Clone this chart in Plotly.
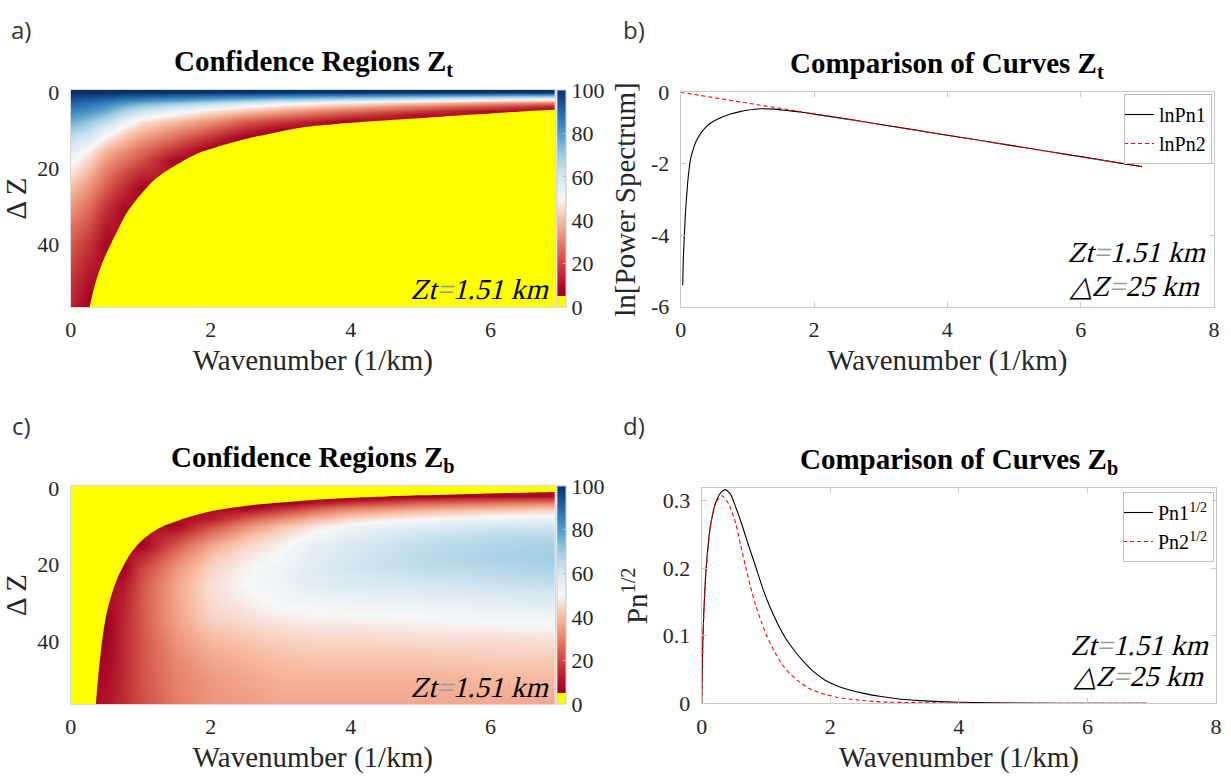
import plotly.graph_objects as go

W, H = 1231, 777
SERIF = "Liberation Serif, Times New Roman, Times, serif"
SANS = "Open Sans"
INK = "#262626"
FRAME = "#c8c8c8"
N = None

# ---------------------------------------------------------------------------
# Confidence maps: wavenumber columns (1/km) and depth-extent rows ΔZ (km)
# ---------------------------------------------------------------------------
k_grid = [0, 0.25, 0.5, 0.75, 1, 1.5, 2, 2.5, 3, 3.5, 4, 5, 6, 7]
dz_grid = [0, 1, 2, 3, 4, 5, 6, 8, 10, 12, 15, 18, 21, 25, 30, 35, 40, 45, 50, 57]

# confidence (%) down each wavenumber column; None = below the 5 % threshold
conf_zt = [
    [100, 97, 94, 91, 88, 85, 82, 76, 70, 64, 58, 52, 47, 40, 34, 28, 24, 20, 17, 14],
    [100, 96, 92, 88, 85, 81, 78, 71, 65, 58, 50, 44, 39, 33, 27, 22, 17, 13, 10, 6],
    [100, 95, 90, 85, 81, 77, 72, 64, 55, 49, 40, 34, 29, 24, 17, 12, 8, N, N, N],
    [100, 93, 86, 80, 74, 69, 64, 55, 47, 41, 34, 28, 22, 16, 9, N, N, N, N, N],
    [100, 92, 84, 76, 69, 62, 56, 46, 40, 35, 28, 22, 16, 8, N, N, N, N, N, N],
    [100, 90, 80, 71, 62, 54, 48, 39, 32, 26, 17, 8, N, N, N, N, N, N, N, N],
    [100, 88, 76, 65, 55, 47, 41, 32, 24, 16, 6, N, N, N, N, N, N, N, N, N],
    [100, 86, 72, 60, 49, 41, 34, 23, 14, 6, N, N, N, N, N, N, N, N, N, N],
    [100, 84, 68, 54, 44, 36, 29, 17, 7, N, N, N, N, N, N, N, N, N, N, N],
    [100, 82, 65, 50, 40, 31, 24, 11, N, N, N, N, N, N, N, N, N, N, N, N],
    [100, 81, 62, 47, 36, 27, 19, 6, N, N, N, N, N, N, N, N, N, N, N, N],
    [100, 78, 56, 40, 28, 18, 10, N, N, N, N, N, N, N, N, N, N, N, N, N],
    [100, 75, 50, 33, 20, 9, N, N, N, N, N, N, N, N, N, N, N, N, N, N],
    [100, 72, 45, 27, 11, N, N, N, N, N, N, N, N, N, N, N, N, N, N, N],
]
conf_zb = [
    [N, N, N, N, N, N, N, N, N, N, N, N, N, N, N, N, N, N, N, N],
    [N, N, N, N, N, N, N, N, N, N, N, N, N, N, N, N, N, N, N, N],
    [N, N, N, N, N, N, N, N, N, N, N, N, N, N, N, 5, 7, 8, 9, 10],
    [N, N, N, N, N, N, N, N, N, N, N, N, 6, 11, 13, 14, 14, 14, 15, 15],
    [N, N, N, N, N, N, N, N, N, N, 7, 14, 19, 22, 23, 23, 22, 22, 22, 21],
    [N, N, N, N, N, N, N, N, 8, 15, 23, 29, 33, 36, 36, 35, 33, 31, 30, 29],
    [N, N, N, N, N, N, N, 12, 21, 28, 36, 41, 44, 46, 45, 43, 39, 36, 34, 33],
    [N, N, N, N, N, 5, 12, 24, 32, 38, 44, 47, 49, 50, 48, 45, 41, 38, 36, 34],
    [N, N, N, N, 5, 13, 20, 32, 40, 45, 49, 51, 53, 53, 51, 47, 43, 40, 38, 36],
    [N, N, N, N, 12, 21, 28, 39, 47, 51, 55, 57, 58, 57, 52, 48, 44, 41, 38, 36],
    [N, N, N, 8, 18, 27, 34, 45, 52, 56, 59, 60, 61, 58, 53, 48, 44, 41, 38, 36],
    [N, N, 5, 15, 25, 33, 40, 50, 57, 61, 64, 65, 64, 60, 54, 49, 45, 41, 38, 36],
    [N, N, 8, 18, 28, 36, 43, 53, 60, 64, 67, 68, 66, 62, 56, 50, 45, 42, 39, 36],
    [N, N, 10, 20, 30, 39, 45, 55, 61, 65, 69, 70, 68, 64, 57, 51, 46, 42, 39, 36],
]

# edge of the below-threshold zone in each map
edge_zt_k = [0.27, 0.32, 0.37, 0.45, 0.56, 0.68, 0.80, 0.93, 1.06, 1.2, 1.39, 1.6,
             1.82, 2.1, 2.35, 2.6, 2.87, 3.1, 3.35, 3.8, 4.3, 4.8, 5.3, 5.8, 6.3, 6.95]
edge_zt_dz = [56.5, 52.5, 49.2, 45.0, 40.5, 36.0, 31.8, 28.5, 25.7, 23.0, 20.5, 18.2,
              16.1, 14.4, 13.1, 11.9, 10.9, 10.0, 9.2, 8.4, 7.7, 7.1, 6.5, 5.9, 5.3, 4.65]
edge_zb_k = [0.36, 0.38, 0.40, 0.43, 0.46, 0.50, 0.55, 0.6, 0.67, 0.75, 0.85, 1.0, 1.15, 1.3,
             1.5, 1.75, 2.0, 2.3, 2.7, 3.1, 3.5, 4.0, 4.5, 5.0, 5.5, 6.0, 6.5, 7.0]
edge_zb_dz = [57, 52, 48, 43, 38.5, 34, 30, 27, 23.5, 20.5, 17.3, 14, 11.8, 10.2,
              8.8, 7.3, 6.1, 5.2, 4.3, 3.7, 3.1, 2.6, 2.25, 1.95, 1.7, 1.45, 1.25, 1.05]

# ---------------------------------------------------------------------------
# Spectral curves
# ---------------------------------------------------------------------------
k_lnpn1 = [0.03, 0.04, 0.055, 0.075, 0.1, 0.115, 0.15, 0.2, 0.23, 0.3, 0.36, 0.45, 0.59,
           0.75, 0.89, 1.0, 1.19, 1.4, 1.6, 1.8, 2.0, 2.5, 3.0, 4.0, 5.0, 6.0, 6.92]
lnpn1 = [-5.40, -4.60, -4.00, -3.25, -2.65, -2.32, -1.85, -1.52, -1.38, -1.15, -1.01, -0.86,
         -0.72, -0.61, -0.54, -0.50, -0.46, -0.47, -0.51, -0.55, -0.61, -0.75, -0.90, -1.20,
         -1.50, -1.80, -2.08]
k_lnpn2 = [0, 1, 2, 3, 4, 5, 6, 6.92]
lnpn2 = [0, -0.30, -0.60, -0.90, -1.20, -1.50, -1.80, -2.08]

k_pn1 = [0, 0.02, 0.07, 0.14, 0.23, 0.3, 0.37, 0.45, 0.53, 0.62, 0.72, 0.84, 0.95, 1.05,
         1.17, 1.3, 1.45, 1.61, 1.75, 1.92, 2.1, 2.29, 2.5, 2.79, 3.1, 3.4, 4.0, 5.0, 6.0, 6.92]
pn1_sqrt = [0, 0.10, 0.20, 0.265, 0.30, 0.312, 0.316, 0.309, 0.29, 0.266, 0.236, 0.202,
            0.170, 0.145, 0.120, 0.097, 0.077, 0.059, 0.046, 0.034, 0.026, 0.020, 0.015,
            0.010, 0.006, 0.004, 0.0015, 0.0003, 0.0001, 0.0]
k_pn2 = [0, 0.02, 0.07, 0.15, 0.22, 0.32, 0.42, 0.53, 0.6, 0.68, 0.76, 0.84, 0.93, 1.02,
         1.13, 1.24, 1.36, 1.49, 1.67, 1.86, 2.1, 2.41, 2.8, 3.3, 4.0, 5.0, 6.0, 6.92]
pn2_sqrt = [0, 0.10, 0.20, 0.27, 0.297, 0.307, 0.295, 0.266, 0.236, 0.203, 0.172, 0.145,
            0.12, 0.098, 0.077, 0.059, 0.045, 0.034, 0.022, 0.015, 0.009, 0.005, 0.002,
            0.001, 0.0002, 0, 0, 0]

K_MAX = 6.92          # right edge of the confidence maps
DZ_RANGE = [56.5, -0.5]
K_OUT, DZ_OUT_LOW, DZ_OUT_TOP = 7.6, 60, -3   # closing corners kept outside the view

conf_scale = [
    [0.0, "#ffff00"], [0.05, "#ffff00"],
    [0.05, "rgb(150,0,35)"], [0.1, "rgb(175,15,40)"], [0.2, "rgb(205,70,65)"],
    [0.3, "rgb(230,130,105)"], [0.4, "rgb(248,190,165)"], [0.5, "rgb(247,247,247)"],
    [0.6, "rgb(214,232,242)"], [0.7, "rgb(160,205,227)"], [0.8, "rgb(80,155,200)"],
    [0.9, "rgb(35,105,170)"], [1.0, "rgb(8,48,107)"],
]


def rows(cols):
    return [list(r) for r in zip(*cols)]


def box(x0, x1, y0, y1):
    """pixel box -> paper domains"""
    return [x0 / W, x1 / W], [1 - y1 / H, 1 - y0 / H]


dom = {
    "a": box(70.7, 555, 90, 307),
    "b": box(680.7, 1214, 92.3, 306.7),
    "c": box(70.7, 555, 486, 704),
    "d": box(701.7, 1216, 488.3, 703.3),
}

tick_font = dict(family=SERIF, size=22, color=INK)
title_font = dict(family=SERIF, size=29, color=INK)


def cbar(y0, y1):
    return dict(
        x=557 / W, xanchor="left", xpad=0, ypad=0,
        y=1 - (y0 + y1) / 2 / H, yanchor="middle", len=(y1 - y0) / H, lenmode="fraction",
        thickness=9, thicknessmode="pixels", outlinecolor=FRAME, outlinewidth=1,
        tickvals=[0, 20, 40, 60, 80, 100], ticks="inside", ticklen=3, tickcolor="#bbbbbb",
        tickfont=tick_font,
    )


fig = go.Figure()

# a) confidence for the top depth
fig.add_trace(go.Heatmap(
    x=k_grid, y=dz_grid, z=rows(conf_zt), zmin=0, zmax=100, colorscale=conf_scale,
    zsmooth="best", connectgaps=True, colorbar=cbar(90, 307), hoverinfo="skip",
    xaxis="x", yaxis="y"))
fig.add_trace(go.Scatter(
    x=edge_zt_k + [K_OUT, K_OUT, edge_zt_k[0]],
    y=edge_zt_dz + [edge_zt_dz[-1], DZ_OUT_LOW, DZ_OUT_LOW],
    mode="lines", fill="toself", fillcolor="#ffff00",
    line=dict(width=0, shape="spline", smoothing=0.8, color="#ffff00"),
    showlegend=False, hoverinfo="skip", xaxis="x", yaxis="y"))

# c) confidence for the bottom depth
fig.add_trace(go.Heatmap(
    x=k_grid, y=dz_grid, z=rows(conf_zb), zmin=0, zmax=100, colorscale=conf_scale,
    zsmooth="best", connectgaps=True, colorbar=cbar(486, 704), hoverinfo="skip",
    xaxis="x3", yaxis="y3"))
fig.add_trace(go.Scatter(
    x=[-K_OUT, -K_OUT, edge_zb_k[0]] + edge_zb_k + [K_OUT, K_OUT],
    y=[DZ_OUT_TOP, DZ_OUT_LOW, DZ_OUT_LOW] + edge_zb_dz + [edge_zb_dz[-1], DZ_OUT_TOP],
    mode="lines", fill="toself", fillcolor="#ffff00",
    line=dict(width=0, shape="spline", smoothing=0.8, color="#ffff00"),
    showlegend=False, hoverinfo="skip", xaxis="x3", yaxis="y3"))

# b) log power spectra
fig.add_trace(go.Scatter(x=k_lnpn1, y=lnpn1, mode="lines", name="lnPn1",
                         line=dict(color="black", width=1.1, shape="spline", smoothing=0.5),
                         legend="legend", xaxis="x2", yaxis="y2"))
fig.add_trace(go.Scatter(x=k_lnpn2, y=lnpn2, mode="lines", name="lnPn2",
                         line=dict(color="#ff0000", width=1.1, dash="4px,3px"),
                         legend="legend", xaxis="x2", yaxis="y2"))

# d) square-root spectra
fig.add_trace(go.Scatter(x=k_pn1, y=pn1_sqrt, mode="lines", name="Pn1<sup>1/2</sup>",
                         line=dict(color="black", width=1.1, shape="spline", smoothing=0.6),
                         legend="legend2", xaxis="x4", yaxis="y4"))
fig.add_trace(go.Scatter(x=k_pn2, y=pn2_sqrt, mode="lines", name="Pn2<sup>1/2</sup>",
                         line=dict(color="#ff0000", width=1.1, dash="4px,3px",
                                   shape="spline", smoothing=0.6),
                         legend="legend2", xaxis="x4", yaxis="y4"))


def map_axes(dx, dy, anchor_x, anchor_y):
    xa = dict(domain=dx, anchor=anchor_y, range=[0, K_MAX], tickvals=[0, 2, 4, 6],
              showline=True, mirror=True, linecolor="#d9d9d9", ticks="", showgrid=False,
              zeroline=False, tickfont=tick_font, ticklabelstandoff=3, automargin=False,
              title=dict(text="Wavenumber (1/km)", font=title_font, standoff=8))
    ya = dict(domain=dy, anchor=anchor_x, range=DZ_RANGE, tickvals=[0, 20, 40],
              showline=True, mirror=True, linecolor="#d9d9d9", ticks="", showgrid=False,
              zeroline=False, tickfont=tick_font, ticklabelstandoff=6, automargin=False,
              title=dict(text="Δ Z", font=title_font, standoff=4))
    return xa, ya


def curve_axes(dx, dy, anchor_x, anchor_y, yr, ytv, ytt, ytitle):
    common = dict(showline=True, mirror="allticks", linecolor=FRAME, linewidth=1,
                  ticks="inside", ticklen=5, tickcolor=FRAME, showgrid=False,
                  zeroline=False, tickfont=tick_font, automargin=False)
    xa = dict(domain=dx, anchor=anchor_y, range=[0, 8], tickvals=[0, 2, 4, 6, 8],
              ticklabelstandoff=3,
              title=dict(text="Wavenumber (1/km)", font=title_font, standoff=8), **common)
    ya = dict(domain=dy, anchor=anchor_x, range=yr, tickvals=ytv, ticktext=ytt,
              ticklabelstandoff=6, title=dict(text=ytitle, font=title_font, standoff=6),
              **common)
    return xa, ya


xa1, ya1 = map_axes(*dom["a"], "x", "y")
xa3, ya3 = map_axes(*dom["c"], "x3", "y3")
xa2, ya2 = curve_axes(*dom["b"], "x2", "y2", [-6, 0], [-6, -4, -2, 0],
                      ["-6", "-4", "-2", "0"], "ln[Power Spectrum]")
xa4, ya4 = curve_axes(*dom["d"], "x4", "y4", [0, 0.318], [0, 0.1, 0.2, 0.3],
                      ["0", "0.1", "0.2", "0.3"], "Pn<sup>1/2</sup>")


def px_ann(text, x, y, size, xanchor="center", family=SERIF, color="black", height=None):
    a = dict(text=text, x=x / W, y=1 - y / H, xref="paper", yref="paper",
             xanchor=xanchor, yanchor="middle", showarrow=False,
             font=dict(family=family, size=size, color=color))
    if height:
        a["height"] = height
    return a


# parameter notes; slanted in the page script below (the serif face has no italic cut)
EQ = "<span style='color:#9a9a9a'>=</span>"
annotations = [
    px_ann("<b>Confidence Regions Z<sub>t</sub></b>", 313, 63, 29),
    px_ann("<b>Comparison of Curves Z<sub>t</sub></b>", 947, 65, 29),
    px_ann("<b>Confidence Regions Z<sub>b</sub></b>", 313, 459, 29),
    px_ann("<b>Comparison of Curves Z<sub>b</sub></b>", 959, 461, 29),
    px_ann("a)", 21, 29, 24, family=SANS, color="#333333"),
    px_ann("b)", 634, 29, 24, family=SANS, color="#333333"),
    px_ann("c)", 21, 425, 24, family=SANS, color="#333333"),
    px_ann("d)", 634, 425, 24, family=SANS, color="#333333"),
    px_ann(f"Zt{EQ}1.51 km", 553, 289, 29, xanchor="right"),
    px_ann(f"Zt{EQ}1.51 km", 553, 687, 29, xanchor="right"),
    px_ann(f"Zt{EQ}1.51 km", 1210, 252, 29, xanchor="right", height=31),
    px_ann(f"△Z{EQ}25 km", 1204, 286, 29, xanchor="right", height=31),
    px_ann(f"Zt{EQ}1.51 km", 1213, 645, 29, xanchor="right", height=30),
    px_ann(f"△Z{EQ}25 km", 1208, 676, 29, xanchor="right", height=30),
]

legend_style = dict(xanchor="right", yanchor="top", bgcolor="white", bordercolor="#bdbdbd",
                    borderwidth=1, font=dict(family=SERIF, size=20, color="black"),
                    tracegroupgap=0, indentation=-6)

fig.update_layout(
    width=W, height=H,
    font=dict(family=SERIF, color=INK),
    margin=dict(l=0, r=0, t=0, b=0, autoexpand=False),
    paper_bgcolor="white", plot_bgcolor="white",
    xaxis=xa1, yaxis=ya1, xaxis2=xa2, yaxis2=ya2,
    xaxis3=xa3, yaxis3=ya3, xaxis4=xa4, yaxis4=ya4,
    legend=dict(x=1212 / W, y=1 - 94 / H, **legend_style),
    legend2=dict(x=1214 / W, y=1 - 492 / H, **legend_style),
    annotations=annotations,
    showlegend=True,
)

slant_js = """
var gd = document.getElementById('{plot_id}');
function slantNotes() {
  gd.querySelectorAll('.annotation-text').forEach(function (t) {
    if (t.textContent.indexOf(' km') >= 0) {
      t.style.transformBox = 'fill-box';
      t.style.transformOrigin = '50% 50%';
      t.style.transform = 'skewX(-14deg)';
    }
  });
}
slantNotes();
gd.on('plotly_afterplot', slantNotes);
"""

fig.write_html("out.html", post_script=slant_js)
